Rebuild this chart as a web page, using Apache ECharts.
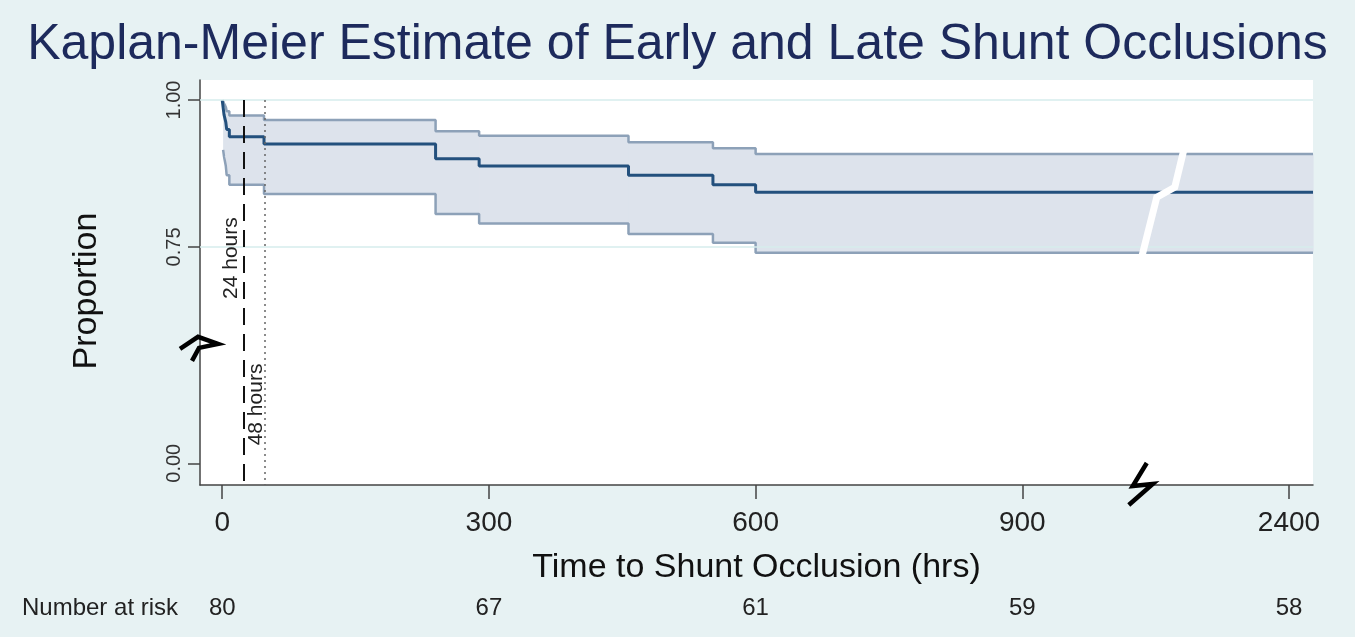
<!DOCTYPE html>
<html><head><meta charset="utf-8">
<script src="https://cdn.jsdelivr.net/npm/echarts@6/dist/echarts.min.js"></script>
<style>html,body{margin:0;padding:0;background:#e7f2f3;} #c{width:1355px;height:637px;}</style>
</head><body><div id="c"></div>
<script>
// ---- data ----
const titleText = 'Kaplan-Meier Estimate of Early and Late Shunt Occlusions';
const xTitle = 'Time to Shunt Occlusion (hrs)';
const yTitle = 'Proportion';
const times    = [0, 1, 2, 4, 5, 8, 47, 240, 289, 457, 552, 600, 2427];
const survival = [1.0, 0.9875, 0.975, 0.9625, 0.95, 0.9375, 0.925, 0.900, 0.8875, 0.872, 0.856, 0.843, 0.843];
const upperCI  = [null, 0.998, 0.994, 0.988, 0.981, 0.9735, 0.966, 0.947, 0.939, 0.928, 0.918, 0.908, 0.908];
const lowerCI  = [null, 0.915, 0.904, 0.888, 0.872, 0.856, 0.840, 0.806, 0.790, 0.772, 0.757, 0.740, 0.740];
const xTicks = [0, 300, 600, 900, 2400];
const yTicks = [0, 0.75, 1.0];
const gridLineValues = [1.0, 0.75];
const riskLabel = 'Number at risk';
const riskTimes = [0, 300, 600, 900, 2400];
const numberAtRisk = [80, 67, 61, 59, 58];
const refTimes = [24, 48];
const refLabels = ['24 hours', '48 hours'];
const refLabelValues = [0.731, 0.10];
const xBreak = [1031, 2231];
const yBreak = [0.198, 0.58];

const FONT = 'Liberation Sans, Arial, sans-serif';
const X_MIN = -25, X_MAX = 2427, Y_MIN = -0.037, Y_MAX = 1.034;
const chart = echarts.init(document.getElementById('c'));
const pts = arr => times.map((t, i) => [t, arr[i]]);
const bandRects = [];
for (let i = 0; i < times.length - 1; i++) {
  if (upperCI[i] != null && lowerCI[i] != null) bandRects.push([times[i], times[i + 1], lowerCI[i], upperCI[i]]);
}

const option = {
  backgroundColor: '#e7f2f3',
  animation: false,
  title: { text: titleText, left: 'center', top: 15,
    textStyle: { fontFamily: FONT, fontSize: 50, fontWeight: 'normal', color: '#1d2a5c' } },
  grid: { left: 200, right: 42, top: 80, bottom: 152, show: true, backgroundColor: '#ffffff', borderWidth: 0 },
  xAxis: {
    type: 'value', min: X_MIN, max: X_MAX,
    breaks: [{ start: xBreak[0], end: xBreak[1], gap: 0 }],
    breakArea: { show: false },
    axisLine: { onZero: false, lineStyle: { color: '#444', width: 1.5 } },
    axisTick: { customValues: xTicks, length: 14, lineStyle: { color: '#444', width: 1.5 } },
    axisLabel: { customValues: xTicks, fontFamily: FONT, fontSize: 28, color: '#222', margin: 24,
      formatter: v => String(v) },
    splitLine: { show: false },
    name: xTitle, nameLocation: 'middle', nameGap: 66,
    nameTextStyle: { fontFamily: FONT, fontSize: 34, color: '#111' }
  },
  yAxis: {
    type: 'value', min: Y_MIN, max: Y_MAX,
    breaks: [{ start: yBreak[0], end: yBreak[1], gap: 0 }],
    breakArea: { show: false },
    axisLine: { onZero: false, lineStyle: { color: '#444', width: 1.5 } },
    axisTick: { customValues: yTicks, length: 12, lineStyle: { color: '#444', width: 1.5 } },
    axisLabel: { customValues: yTicks, rotate: 90, fontFamily: FONT, fontSize: 20, color: '#333', margin: 16,
      formatter: v => v.toFixed(2) },
    splitLine: { show: false }
  },
  series: [
    { name: 'gridlines', type: 'line', data: [[0, 1.0]], symbol: 'none', lineStyle: { opacity: 0 }, silent: true, z: 1,
      markLine: { silent: true, symbol: 'none', label: { show: false },
        lineStyle: { color: '#d6ecec', type: 'solid', width: 1.5 },
        data: gridLineValues.map(v => ({ yAxis: v })) } },
    { name: 'band', type: 'custom', data: bandRects, silent: true, z: 2,
      encode: { x: [0, 1], y: [2, 3] },
      renderItem: (params, api) => {
        const a = api.coord([api.value(0), api.value(3)]);
        const b = api.coord([api.value(1), api.value(2)]);
        return { type: 'rect', shape: { x: a[0], y: a[1], width: b[0] - a[0] + 0.6, height: b[1] - a[1] },
          style: { fill: '#dde3ec' } };
      } },
    { name: 'upper', type: 'line', step: 'end', data: pts(upperCI), symbol: 'none',
      lineStyle: { color: '#8da1b8', width: 2.5 }, z: 3 },
    { name: 'lower', type: 'line', step: 'end', data: pts(lowerCI), symbol: 'none',
      lineStyle: { color: '#8da1b8', width: 2.5 }, z: 3 },
    { name: 'estimate', type: 'line', step: 'end', data: pts(survival), symbol: 'none',
      lineStyle: { color: '#23507d', width: 3 }, z: 4,
      markLine: { silent: true, symbol: 'none', label: { show: false },
        data: [
          [{ coord: [refTimes[0], 1.0], lineStyle: { color: '#111', type: [17, 9], width: 2 } }, { coord: [refTimes[0], Y_MIN] }],
          [{ coord: [refTimes[1], 1.0], lineStyle: { color: '#666', type: [2, 4], width: 1.5 } }, { coord: [refTimes[1], Y_MIN] }]
        ] } }
  ]
};
chart.setOption(option);

function px(x, y) { return chart.convertToPixel({ gridIndex: 0 }, [x, y]); }
const g = [];
g.push({ type: 'text', x: 87, y: 291, rotation: Math.PI / 2, z: 100,
  style: { text: yTitle, font: '34px ' + FONT, fill: '#111', align: 'center', verticalAlign: 'middle' } });
refTimes.forEach((t, i) => {
  const p = px(t, refLabelValues[i]);
  g.push({ type: 'text', x: p[0] - (i === 0 ? 12 : 9), y: p[1], rotation: Math.PI / 2, z: 100,
    style: { text: refLabels[i], font: '21px ' + FONT, fill: '#222', align: 'center', verticalAlign: 'middle' } });
});
g.push({ type: 'text', x: 22, y: 608, z: 100, style: { text: riskLabel, font: '24px ' + FONT, fill: '#222', verticalAlign: 'middle' } });
riskTimes.forEach((t, i) => {
  const p = px(t, 0);
  g.push({ type: 'text', x: p[0], y: 608, z: 100, style: { text: String(numberAtRisk[i]), font: '24px ' + FONT, fill: '#222', align: 'center', verticalAlign: 'middle' } });
});
const xb = px(xBreak[0], 0)[0];
const axisY = px(0, Y_MIN)[1];
const yHi = px(X_MAX, upperCI[upperCI.length - 1])[1];
const yLo = px(X_MAX, lowerCI[lowerCI.length - 1])[1];
const yEst = px(X_MAX, survival[survival.length - 1])[1];
g.push({ type: 'polyline', z: 100, shape: { points: [[xb + 45, yHi - 4], [xb + 36, yEst - 5], [xb + 18, yEst + 5], [xb + 3, yLo + 4]] },
  style: { stroke: '#ffffff', lineWidth: 7, fill: null, lineJoin: 'miter' } });
g.push({ type: 'polyline', z: 100, shape: { points: [[xb + 8, axisY - 22], [xb - 6, axisY + 1], [xb + 14, axisY - 1], [xb - 10, axisY + 20]] },
  style: { stroke: '#000', lineWidth: 4.5, fill: null } });
const yAxisX = px(X_MIN, 0)[0];
const yb = px(0, yBreak[0])[1];
g.push({ type: 'polyline', z: 100, shape: { points: [[yAxisX - 20, yb + 2], [yAxisX - 2, yb - 10], [yAxisX + 18, yb - 3], [yAxisX - 1, yb + 1], [yAxisX - 8, yb + 14]] },
  style: { stroke: '#000', lineWidth: 4.5, fill: null } });
chart.setOption({ graphic: g });
</script></body></html>
